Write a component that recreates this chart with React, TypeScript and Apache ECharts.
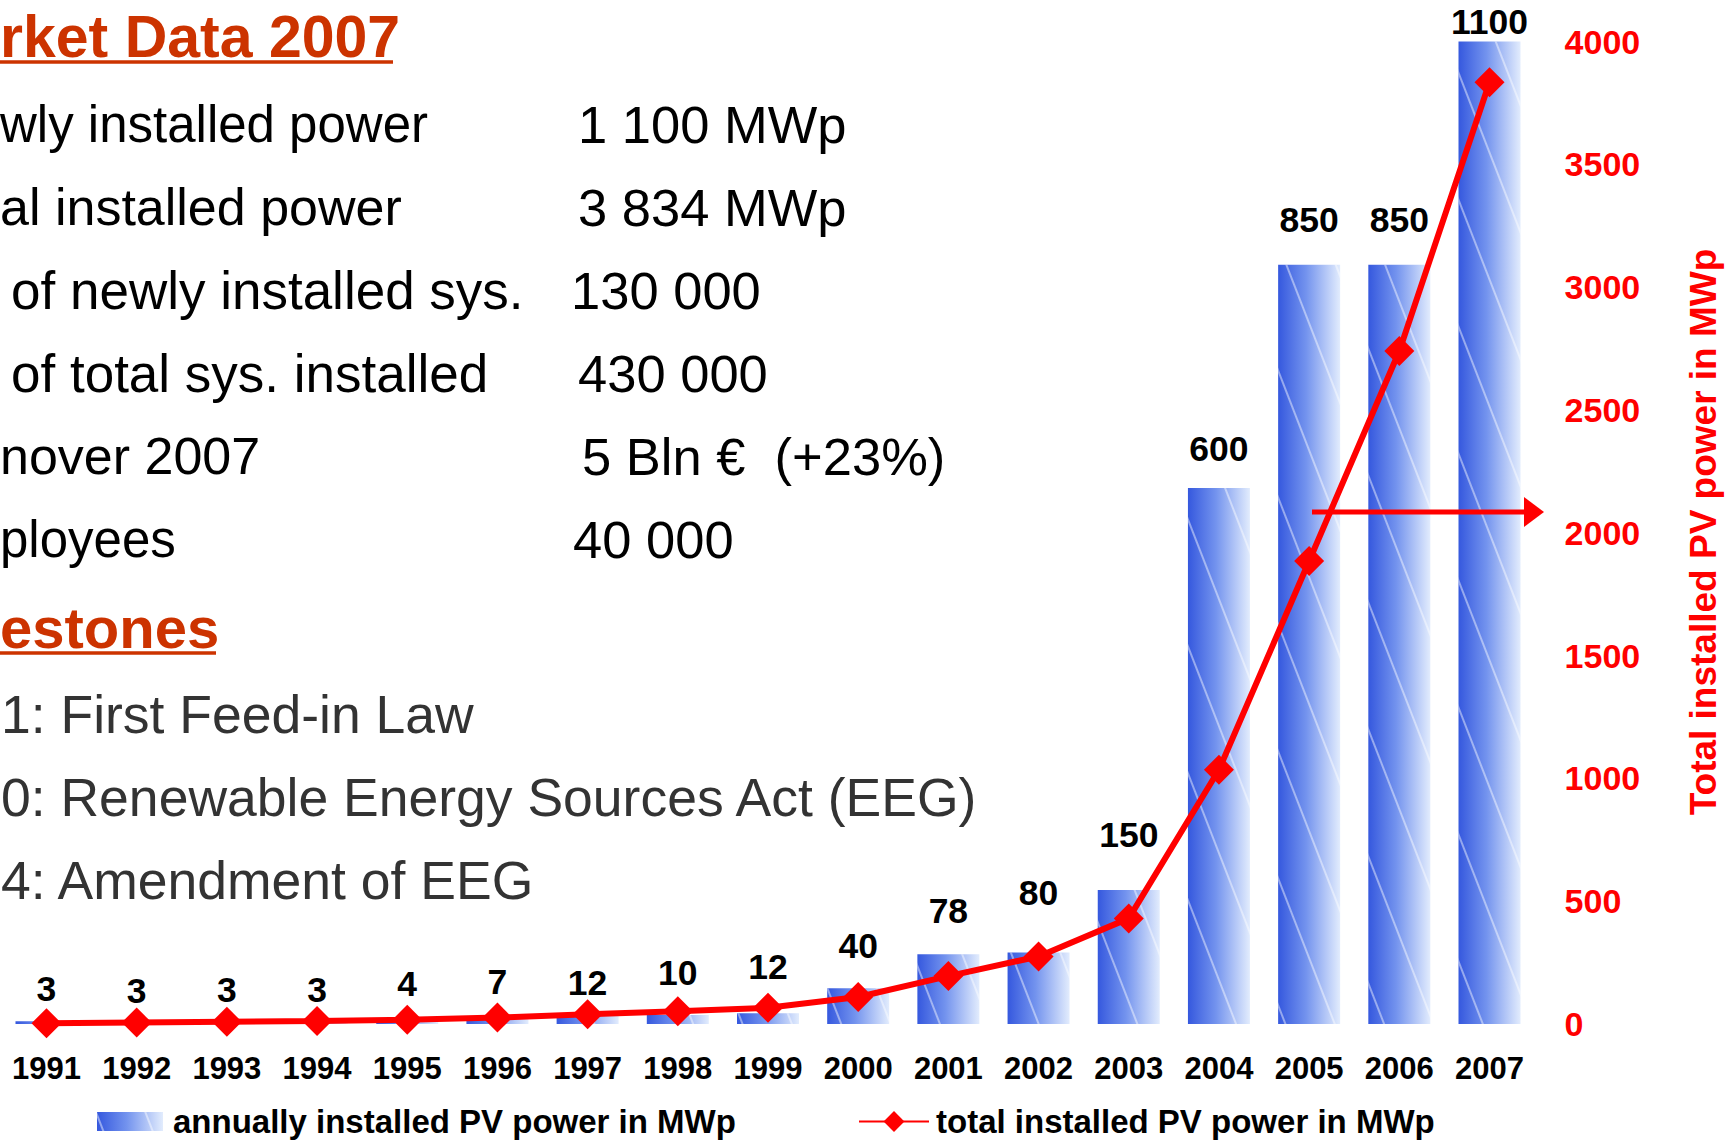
import React, { useEffect, useRef } from 'react';
import * as echarts from 'echarts';

const years = ['1991', '1992', '1993', '1994', '1995', '1996', '1997', '1998', '1999', '2000', '2001', '2002', '2003', '2004', '2005', '2006', '2007'];
const annualMW = [3, 3, 3, 3, 4, 7, 12, 10, 12, 40, 78, 80, 150, 600, 850, 850, 1100];
const totalMW = [3, 6, 9, 12, 17, 26, 40, 52, 66, 110, 195, 275, 430, 1035, 1885, 2740, 3834];
const rightAxisMax = 4000;
const rightAxisStep = 500;
const leftAxisMax = 1100;

const seriesNames = ['annually installed PV power in MWp', 'total installed PV power in MWp'];
const axisTitle = 'Total installed PV power in MWp';

const marketTitle = 'rket Data 2007';
const marketLabels = ['wly installed power', 'al installed power', 'of newly installed sys.', 'of total sys. installed', 'nover 2007', 'ployees'];
const marketValues = ['1 100 MWp', '3 834 MWp', '130 000', '430 000', '5 Bln €\u00a0 (+23%)', '40 000'];
const milestoneTitle = 'estones';
const milestones = ['1: First Feed-in Law', '0: Renewable Energy Sources Act (EEG)', '4: Amendment of EEG'];

// label styling (distances of value labels above bars)
const LABEL_DIST = [14, 12, 13, 13, 18, 18, 12, 24, 28, 24, 25, 42, 37, 21, 27, 27, 2];
const LABEL_X = [0, 0, 11, 11, 0, 0];
const LABEL_SIZE = [51, 52, 53, 53, 52, 51];
const VALUE_X = [578, 578, 571, 578, 582, 573];

const FONT = "'Liberation Sans', Arial, Helvetica, sans-serif";

export default function App() {
  const ref = useRef<HTMLDivElement>(null);

  useEffect(() => {
    if (!ref.current) return;
    const chart = echarts.init(ref.current, undefined, { renderer: 'svg' });

    const barFill = new echarts.graphic.LinearGradient(0, 0, 1, 0, [
      { offset: 0, color: '#3558DE' },
      { offset: 0.45, color: '#7393EE' },
      { offset: 1, color: '#E2ECFD' },
    ]);

    const graphics: any[] = [];
    graphics.push({
      type: 'text', x: 0, y: 57 - 20.5,
      style: { text: marketTitle, font: `bold 59px ${FONT}`, fill: '#CC3300', verticalAlign: 'middle', align: 'left' },
    });
    graphics.push({ type: 'line', shape: { x1: 0, y1: 62, x2: 393, y2: 62 }, style: { stroke: '#CC3300', lineWidth: 3.5 } });
    marketLabels.forEach((t, i) => {
      const base = 142 + i * 83;
      graphics.push({
        type: 'text', x: LABEL_X[i], y: base - 18,
        style: { text: t, font: `${LABEL_SIZE[i]}px ${FONT}`, fill: '#000', verticalAlign: 'middle', align: 'left' },
      });
      graphics.push({
        type: 'text', x: VALUE_X[i], y: base - 18,
        style: { text: marketValues[i], font: `52.5px ${FONT}`, fill: '#000', verticalAlign: 'middle', align: 'left' },
      });
    });
    graphics.push({
      type: 'text', x: 0, y: 648 - 20.5,
      style: { text: milestoneTitle, font: `bold 58px ${FONT}`, fill: '#CC3300', verticalAlign: 'middle', align: 'left' },
    });
    graphics.push({ type: 'line', shape: { x1: 0, y1: 653, x2: 216, y2: 653 }, style: { stroke: '#CC3300', lineWidth: 3.5 } });
    milestones.forEach((t, i) => {
      const base = 733 + i * 83;
      graphics.push({
        type: 'text', x: 1, y: base - 18.5,
        style: { text: t, font: `53.5px ${FONT}`, fill: '#333333', verticalAlign: 'middle', align: 'left' },
      });
    });
    graphics.push({
      type: 'text', x: 1703, y: 532, rotation: Math.PI / 2,
      style: { text: axisTitle, font: `bold 37px ${FONT}`, fill: '#FF0000', verticalAlign: 'middle', align: 'center' },
    });
    graphics.push({ type: 'line', shape: { x1: 1312, y1: 512, x2: 1528, y2: 512 }, style: { stroke: '#FF0000', lineWidth: 5 }, z: 10 });
    graphics.push({ type: 'polygon', shape: { points: [[1524, 497], [1544, 512], [1524, 527]] }, style: { fill: '#FF0000' }, z: 10 });

    chart.setOption({
      animation: false,
      backgroundColor: '#ffffff',
      grid: { left: 1.4, right: 201.4, top: 41.5, bottom: 116, containLabel: false },
      legend: [
        {
          data: [seriesNames[0]], left: 97, top: 1105, padding: 0, itemWidth: 66, itemHeight: 19,
          textStyle: { fontFamily: FONT, fontWeight: 'bold', fontSize: 33, color: '#000', padding: [0, 0, 0, 5] },
          icon: 'rect',
        },
        {
          data: [seriesNames[1]], left: 858, top: 1105, padding: 0, itemWidth: 70, itemHeight: 26,
          textStyle: { fontFamily: FONT, fontWeight: 'bold', fontSize: 33, color: '#000', padding: [0, 0, 0, 2] },
        },
      ],
      xAxis: {
        type: 'category', data: years, boundaryGap: true,
        axisLine: { show: false }, axisTick: { show: false },
        axisLabel: { fontFamily: FONT, fontWeight: 'bold', fontSize: 31, color: '#000', margin: 29, interval: 0 },
      },
      yAxis: [
        { type: 'value', min: 0, max: leftAxisMax, show: false, splitLine: { show: false } },
        {
          type: 'value', position: 'right', min: 0, max: rightAxisMax, interval: rightAxisStep,
          axisLine: { show: false }, axisTick: { show: false }, splitLine: { show: false },
          axisLabel: {
            fontFamily: FONT, fontWeight: 'bold', fontSize: 34, color: '#FF0000', margin: 30,
            formatter: (v: number) => String(v),
          },
        },
      ],
      series: [
        {
          name: seriesNames[0], type: 'bar', yAxisIndex: 0, barWidth: 62,
          data: annualMW.map((v, i) => ({ value: v, label: { distance: LABEL_DIST[i] } })),
          itemStyle: {
            color: barFill,
            decal: {
              symbol: 'rect', symbolSize: 1, color: 'rgba(255,255,255,0.45)',
              dashArrayX: [1, 0], dashArrayY: [2, 44], rotation: 1.2,
            },
          },
          label: {
            show: true, position: 'top', fontFamily: FONT, fontWeight: 'bold', fontSize: 35.5, color: '#000',
          },
          z: 2,
        },
        {
          name: seriesNames[1], type: 'line', yAxisIndex: 1, data: totalMW,
          symbol: 'diamond', symbolSize: 30,
          lineStyle: { color: '#FF0000', width: 6 },
          itemStyle: { color: '#FF0000' },
          z: 5,
        },
      ],
      graphic: graphics,
    });

    return () => chart.dispose();
  }, []);

  return (
    <div
      ref={ref}
      style={{ position: 'fixed', left: 0, top: 0, width: 1736, height: 1140, background: '#fff' }}
    />
  );
}
